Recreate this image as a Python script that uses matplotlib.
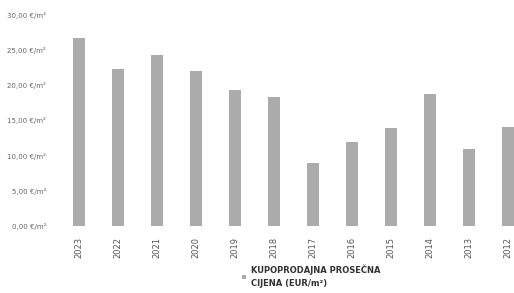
import matplotlib.pyplot as plt
import numpy as np

years = ['2023', '2022', '2021', '2020', '2019', '2018', '2017', '2016', '2015', '2014', '2013', '2012']
prices = [26.7, 22.3, 24.3, 22.1, 19.4, 18.4, 8.9, 11.9, 13.9, 18.8, 10.9, 14.1]
yticks = [0, 5, 10, 15, 20, 25, 30]
ytick_labels = ['0,00 €/m²', '5,00 €/m²', '10,00 €/m²', '15,00 €/m²', '20,00 €/m²', '25,00 €/m²', '30,00 €/m²']
legend_label = 'KUPOPRODAJNA PROSEČNA\nCIJENA (EUR/m²)'

plt.rcParams['font.family'] = ['Liberation Sans Narrow', 'DejaVu Sans']

fig = plt.figure(figsize=(5.14, 2.93), dpi=100)
ax = fig.add_axes([60 / 514, 67 / 293, 1 - 60 / 514, 211 / 293])

x = np.arange(len(years))
ax.bar(x, prices, width=0.31, color='#ababab', label=legend_label)

ax.set_xlim(-0.49, 11.15)
ax.set_ylim(0, 30)
ax.set_yticks(yticks)
ax.set_yticklabels(ytick_labels, fontsize=5, color='#666666')
ax.set_xticks(x)
ax.set_xticklabels(years, rotation=90, fontsize=6, color='#555555')
ax.tick_params(length=0, pad=10)
ax.tick_params(axis='x', pad=8)
for s in ax.spines.values():
    s.set_visible(False)

leg = ax.legend(loc='upper left', bbox_to_anchor=(234 / 514, 36 / 293), bbox_transform=fig.transFigure,
                frameon=False, handlelength=0.5, handleheight=0.5, handletextpad=0.6,
                prop={'weight': 'bold', 'size': 6})
for t in leg.get_texts():
    t.set_color('#333333')
    t.set_linespacing(1.6)

plt.savefig('out.png', dpi=100)
